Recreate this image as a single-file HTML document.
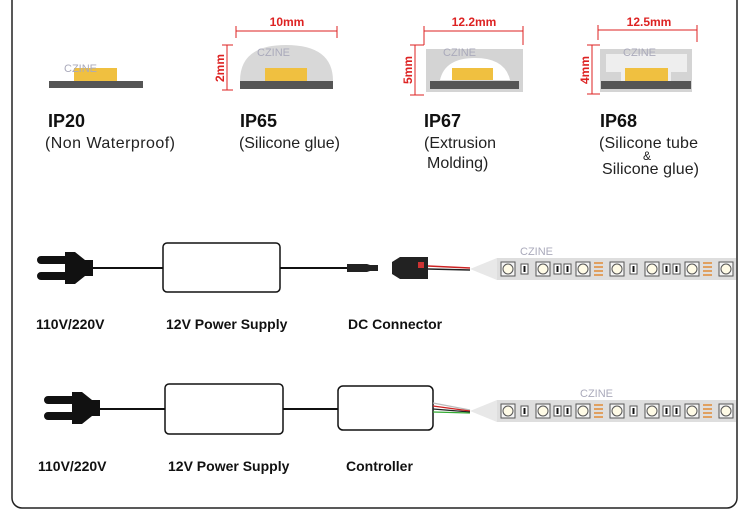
<!DOCTYPE html>
<html><head><meta charset="utf-8"><style>
body{margin:0;background:#fff;}
svg{display:block;font-family:"Liberation Sans",sans-serif;}
</style></head><body>
<svg width="750" height="528" viewBox="0 0 750 528" xmlns="http://www.w3.org/2000/svg">
<defs>
<clipPath id="cp"><rect x="0" y="0" width="736" height="528"/></clipPath>
<g id="led"><rect x="0" y="0" width="14" height="14" fill="#f4f4f4" stroke="#555" stroke-width="1"/><circle cx="7" cy="7" r="5" fill="#fffbe6" stroke="#555" stroke-width="1"/></g>
<g id="res"><rect x="0" y="2" width="7" height="10" fill="#fff" stroke="#555"/><rect x="2.5" y="4" width="2" height="6" fill="#111"/></g>
<g id="pad"><rect x="0" y="1" width="9" height="2" fill="#e0a060"/><rect x="0" y="5" width="9" height="2" fill="#e0a060"/><rect x="0" y="9" width="9" height="2" fill="#e0a060"/><rect x="0" y="13" width="9" height="2" fill="#e0a060"/></g>
<g id="seg">
<use href="#led" x="0"/><use href="#res" x="20"/><use href="#led" x="35"/><use href="#res" x="53"/><use href="#res" x="63"/><use href="#led" x="75"/><use href="#pad" x="93" y="-1"/>
</g>
<g id="strip">
<polygon points="0,0 27,-11 27,11" fill="#e8e8e8"/>
<rect x="27" y="-11" width="240" height="22" fill="#dedede"/>
<g transform="translate(31,-7)"><use href="#seg" x="0"/><use href="#seg" x="109"/><use href="#seg" x="218"/></g>
</g>
<g id="plug">
<path d="M0,4 h24 v-4 h10 l10,8 h8 v16 h-8 l-10,8 h-10 v-4 h-24 a4,4 0 0 1 0,-8 h24 v-8 h-24 a4,4 0 0 1 0,-8z" fill="#111"/>
</g>
</defs>

<path d="M12,0 V498 a10,10 0 0 0 10,10 H727 a10,10 0 0 0 10,-10 V0" fill="none" stroke="#222" stroke-width="1.5"/>

<!-- IP20 -->
<rect x="74" y="68" width="43" height="13" fill="#f0c040"/>
<rect x="49" y="81" width="94" height="7" fill="#555"/>
<text x="64" y="72" font-size="11" fill="#aab">CZINE</text>
<text x="48" y="127" font-size="18" font-weight="bold" fill="#111">IP20</text>
<text x="45" y="148" font-size="16" fill="#222" textLength="130">(Non Waterproof)</text>

<!-- IP65 -->
<path d="M240,81 Q240,45 286,45 Q333,45 333,81z" fill="#d8d8d8"/>
<rect x="265" y="68" width="42" height="13" fill="#f0c040"/>
<rect x="240" y="81" width="93" height="8" fill="#555"/>
<g stroke="#d22" stroke-width="1"><line x1="236" y1="31" x2="337" y2="31"/><line x1="236" y1="26" x2="236" y2="38"/><line x1="337" y1="26" x2="337" y2="38"/><line x1="227" y1="45" x2="227" y2="90"/><line x1="222" y1="45" x2="233" y2="45"/><line x1="222" y1="90" x2="233" y2="90"/></g>
<text x="287" y="26" font-size="12" font-weight="bold" fill="#d22" text-anchor="middle">10mm</text>
<text transform="translate(224,68) rotate(-90)" font-size="12" font-weight="bold" fill="#d22" text-anchor="middle">2mm</text>
<text x="257" y="56" font-size="11" fill="#aab">CZINE</text>
<text x="240" y="127" font-size="18" font-weight="bold" fill="#111">IP65</text>
<text x="239" y="148" font-size="16" fill="#222" textLength="101">(Silicone glue)</text>

<!-- IP67 -->
<rect x="426" y="49" width="97" height="43" fill="#d4d4d4"/>
<path d="M440,80 Q445,58 475,58 Q505,58 510,80z" fill="#fff"/>
<rect x="452" y="68" width="41" height="12" fill="#f0c040"/>
<rect x="430" y="81" width="89" height="8" fill="#555"/>
<g stroke="#d22" stroke-width="1"><line x1="424" y1="31" x2="523" y2="31"/><line x1="424" y1="26" x2="424" y2="45"/><line x1="523" y1="26" x2="523" y2="45"/><line x1="415" y1="45" x2="415" y2="95"/><line x1="410" y1="45" x2="424" y2="45"/><line x1="410" y1="95" x2="424" y2="95"/></g>
<text x="474" y="26" font-size="12" font-weight="bold" fill="#d22" text-anchor="middle">12.2mm</text>
<text transform="translate(412,70) rotate(-90)" font-size="12" font-weight="bold" fill="#d22" text-anchor="middle">5mm</text>
<text x="443" y="56" font-size="11" fill="#aab">CZINE</text>
<text x="424" y="127" font-size="18" font-weight="bold" fill="#111">IP67</text>
<text x="424" y="148" font-size="16" fill="#222">(Extrusion</text>
<text x="427" y="168" font-size="16" fill="#222">Molding)</text>

<!-- IP68 -->
<rect x="600" y="49" width="92" height="43" fill="#d4d4d4"/>
<path d="M606,54 H687 V72 H671 V81 H621 V72 H606z" fill="#eeeeee"/>
<rect x="625" y="68" width="43" height="13" fill="#f0c040"/>
<rect x="601" y="81" width="90" height="8" fill="#555"/>
<g stroke="#d22" stroke-width="1"><line x1="598" y1="30" x2="697" y2="30"/><line x1="598" y1="25" x2="598" y2="40"/><line x1="697" y1="25" x2="697" y2="42"/><line x1="592" y1="45" x2="592" y2="94"/><line x1="587" y1="45" x2="600" y2="45"/><line x1="587" y1="94" x2="600" y2="94"/></g>
<text x="649" y="26" font-size="12" font-weight="bold" fill="#d22" text-anchor="middle">12.5mm</text>
<text transform="translate(589,70) rotate(-90)" font-size="12" font-weight="bold" fill="#d22" text-anchor="middle">4mm</text>
<text x="623" y="56" font-size="11" fill="#aab">CZINE</text>
<text x="600" y="127" font-size="18" font-weight="bold" fill="#111">IP68</text>
<text x="599" y="148" font-size="16" fill="#222" textLength="99">(Silicone tube</text>
<text x="643" y="160" font-size="12" fill="#222">&amp;</text>
<text x="602" y="174" font-size="16" fill="#222" textLength="97">Silicone glue)</text>

<!-- Row 1 -->
<use href="#plug" x="41" y="252"/>
<line x1="93" y1="268" x2="163" y2="268" stroke="#111" stroke-width="2"/>
<rect x="163" y="243" width="117" height="49" rx="4" fill="#fff" stroke="#111" stroke-width="1.5"/>
<line x1="280" y1="268" x2="350" y2="268" stroke="#111" stroke-width="2"/>
<path d="M347,264 h20 l3,1 h8 v6 h-8 l-3,1 h-20z" fill="#222"/>
<path d="M392,262 l8,-5 h28 v22 h-28 l-8,-5z" fill="#222"/>
<rect x="418" y="262" width="6" height="6" fill="#c33"/>
<line x1="428" y1="266" x2="470" y2="268" stroke="#c22" stroke-width="1.5"/>
<line x1="428" y1="269" x2="470" y2="270" stroke="#222" stroke-width="1.5"/>
<g clip-path="url(#cp)"><use href="#strip" x="470" y="269"/></g>
<text x="520" y="255" font-size="11" fill="#aab">CZINE</text>

<text x="36" y="329" font-size="14" font-weight="bold" fill="#111">110V/220V</text>
<text x="166" y="329" font-size="14" font-weight="bold" fill="#111">12V Power Supply</text>
<text x="348" y="329" font-size="14" font-weight="bold" fill="#111">DC Connector</text>

<!-- Row 2 -->
<use href="#plug" x="48" y="392"/>
<line x1="100" y1="409" x2="165" y2="409" stroke="#111" stroke-width="2"/>
<rect x="165" y="384" width="118" height="50" rx="4" fill="#fff" stroke="#111" stroke-width="1.5"/>
<line x1="283" y1="409" x2="338" y2="409" stroke="#111" stroke-width="2"/>
<rect x="338" y="386" width="95" height="44" rx="5" fill="#fff" stroke="#111" stroke-width="1.5"/>
<line x1="433" y1="403" x2="470" y2="410" stroke="#bbb" stroke-width="1.2"/>
<line x1="433" y1="406" x2="470" y2="411" stroke="#c22" stroke-width="1.2"/>
<line x1="433" y1="409" x2="470" y2="412" stroke="#222" stroke-width="1.2"/>
<line x1="433" y1="412" x2="470" y2="413" stroke="#3a3" stroke-width="1.2"/>
<g clip-path="url(#cp)"><use href="#strip" x="470" y="411"/></g>
<text x="580" y="397" font-size="11" fill="#aab">CZINE</text>

<text x="38" y="471" font-size="14" font-weight="bold" fill="#111">110V/220V</text>
<text x="168" y="471" font-size="14" font-weight="bold" fill="#111">12V Power Supply</text>
<text x="346" y="471" font-size="14" font-weight="bold" fill="#111">Controller</text>
</svg>
</body></html>
